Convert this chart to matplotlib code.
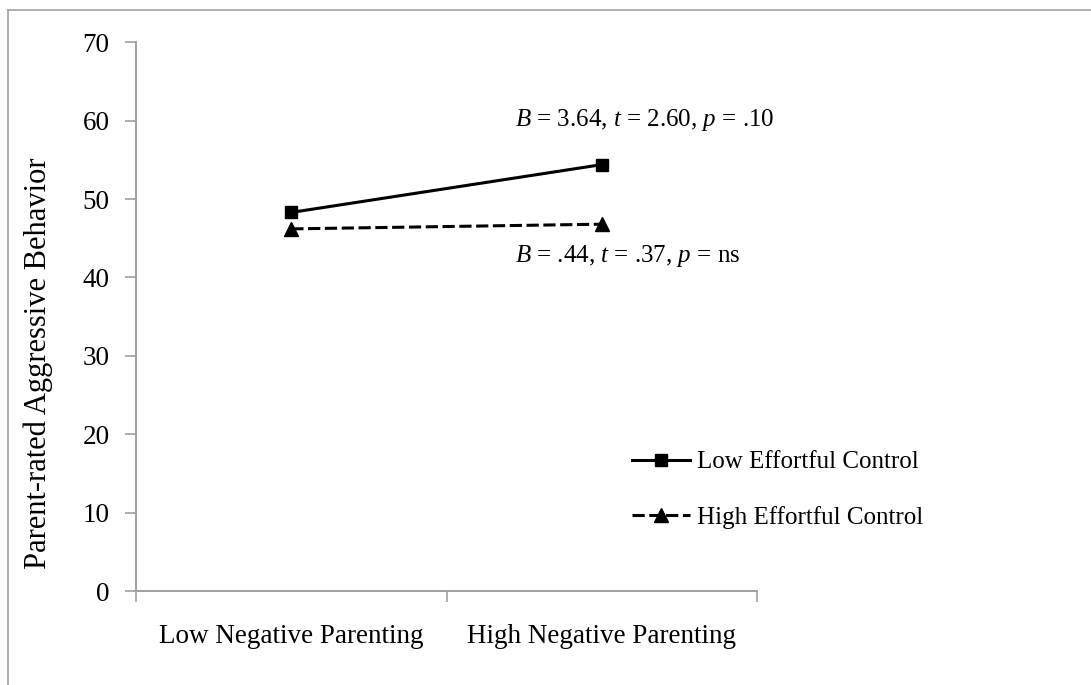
import matplotlib.pyplot as plt
from matplotlib.lines import Line2D

plt.rcParams['font.family'] = ['Liberation Serif', 'DejaVu Serif']

# simple slopes: aggressive behaviour by parenting level
categories = ["Low Negative Parenting", "High Negative Parenting"]
low_ec = [48.3, 54.4]
high_ec = [46.2, 46.8]
series_labels = ["Low Effortful Control", "High Effortful Control"]
stats_low_ec = r"$\it{B}$ = 3.64, $\it{t}$ = 2.60, $\it{p}$ = .10"
stats_high_ec = r"$\it{B}$ = .44, $\it{t}$ = .37, $\it{p}$ = ns"
yticks = [0, 10, 20, 30, 40, 50, 60, 70]

plt.rcParams['mathtext.fontset'] = 'custom'
plt.rcParams['mathtext.it'] = 'Liberation Serif:italic'
plt.rcParams['mathtext.rm'] = 'Liberation Serif'

fig = plt.figure(figsize=(10.91, 6.85), dpi=100)
ax = fig.add_axes([0.1247, 0.1372, 0.5692, 0.801])

grey = '#a0a0a0'
xs = list(range(len(categories)))

ax.plot(xs, low_ec, color='black', lw=2.2, marker='s', markersize=9,
        label=series_labels[0])
ax.plot(xs, high_ec, color='black', lw=2.2, ls=(0, (4, 1.5)), marker='^',
        markersize=10, label=series_labels[1])

ax.set_xlim(-0.5, 1.5)
ax.set_ylim(0, 70)
ax.set_yticks(yticks)
ax.set_xticks(xs)
ax.set_xticklabels(categories)
ax.set_xticks([-0.5, 0.5, 1.5], minor=True)

ax.tick_params(axis='x', which='major', length=0, pad=24, labelsize=19.5)
ax.tick_params(axis='x', which='minor', length=8, width=1.2, color=grey, direction='out')
ax.tick_params(axis='y', length=8, width=1.2, color=grey, pad=11, labelsize=19.5)

for side in ['top', 'right']:
    ax.spines[side].set_visible(False)
for side in ['left', 'bottom']:
    ax.spines[side].set_color(grey)
    ax.spines[side].set_linewidth(1.4)

ax.set_ylabel("Parent-rated Aggressive Behavior", fontsize=22)
ax.yaxis.set_label_coords(-0.134, 0.415)

ax.text(0.72, 60.1, stats_low_ec, fontsize=18, ha='left', va='center')
ax.text(0.72, 42.7, stats_high_ec, fontsize=18, ha='left', va='center')

fig.legend(loc='center left', bbox_to_anchor=(0.5793, 0.2847),
           bbox_transform=fig.transFigure, frameon=False, fontsize=18,
           handlelength=2.3, handletextpad=0.3, labelspacing=1.3,
           borderpad=0, borderaxespad=0)

# outer frame lines along top and left edge
fig.add_artist(Line2D([8 / 1091, 1], [1 - 10 / 685, 1 - 10 / 685],
                      transform=fig.transFigure, color=grey, lw=1.2))
fig.add_artist(Line2D([8 / 1091, 8 / 1091], [0, 1 - 10 / 685],
                      transform=fig.transFigure, color=grey, lw=1.2))

fig.savefig("out.png", dpi=100)
